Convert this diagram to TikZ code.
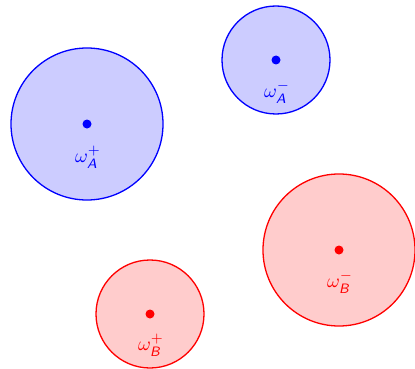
\documentclass[tikz,border=0pt]{standalone}
\newcommand{\slsf}[1]{\hbox{\scriptsize\sffamily\slshape #1}}
\begin{document}
\begin{tikzpicture}[x=1pt,y=-1pt,
  bluedisc/.style={draw=blue,fill=blue!20,line width=1.3pt},
  reddisc/.style={draw=red,fill=red!20,line width=1.3pt},
  bdot/.style={circle,fill=blue,inner sep=0pt,minimum size=9pt},
  rdot/.style={circle,fill=red,inner sep=0pt,minimum size=9pt},
  lab/.style={scale=1.95,inner sep=0pt}]
\useasboundingbox (0,0) rectangle (415,369);
\fill[white] (0,0) rectangle (415,369);
\draw[bluedisc] (87,124) circle (76);
\draw[bluedisc] (276,60) circle (54);
\draw[reddisc] (339,250) circle (76);
\draw[reddisc] (150,314) circle (54);
\node[bdot] (pa) at (87,124) {};
\node[bdot] (ma) at (276,60) {};
\node[rdot] (mb) at (339,250) {};
\node[rdot] (pb) at (150,314) {};
\node[lab,text=blue] (lpa) at (88,157) {$\omega_{\slsf{A}}^{+}$};
\node[lab,text=blue] (lma) at (277,92) {$\omega_{\slsf{A}}^{-}$};
\node[lab,text=red] (lmb) at (340,282) {$\omega_{\slsf{B}}^{-}$};
\node[lab,text=red] (lpb) at (151,345) {$\omega_{\slsf{B}}^{+}$};
\end{tikzpicture}
\end{document}
